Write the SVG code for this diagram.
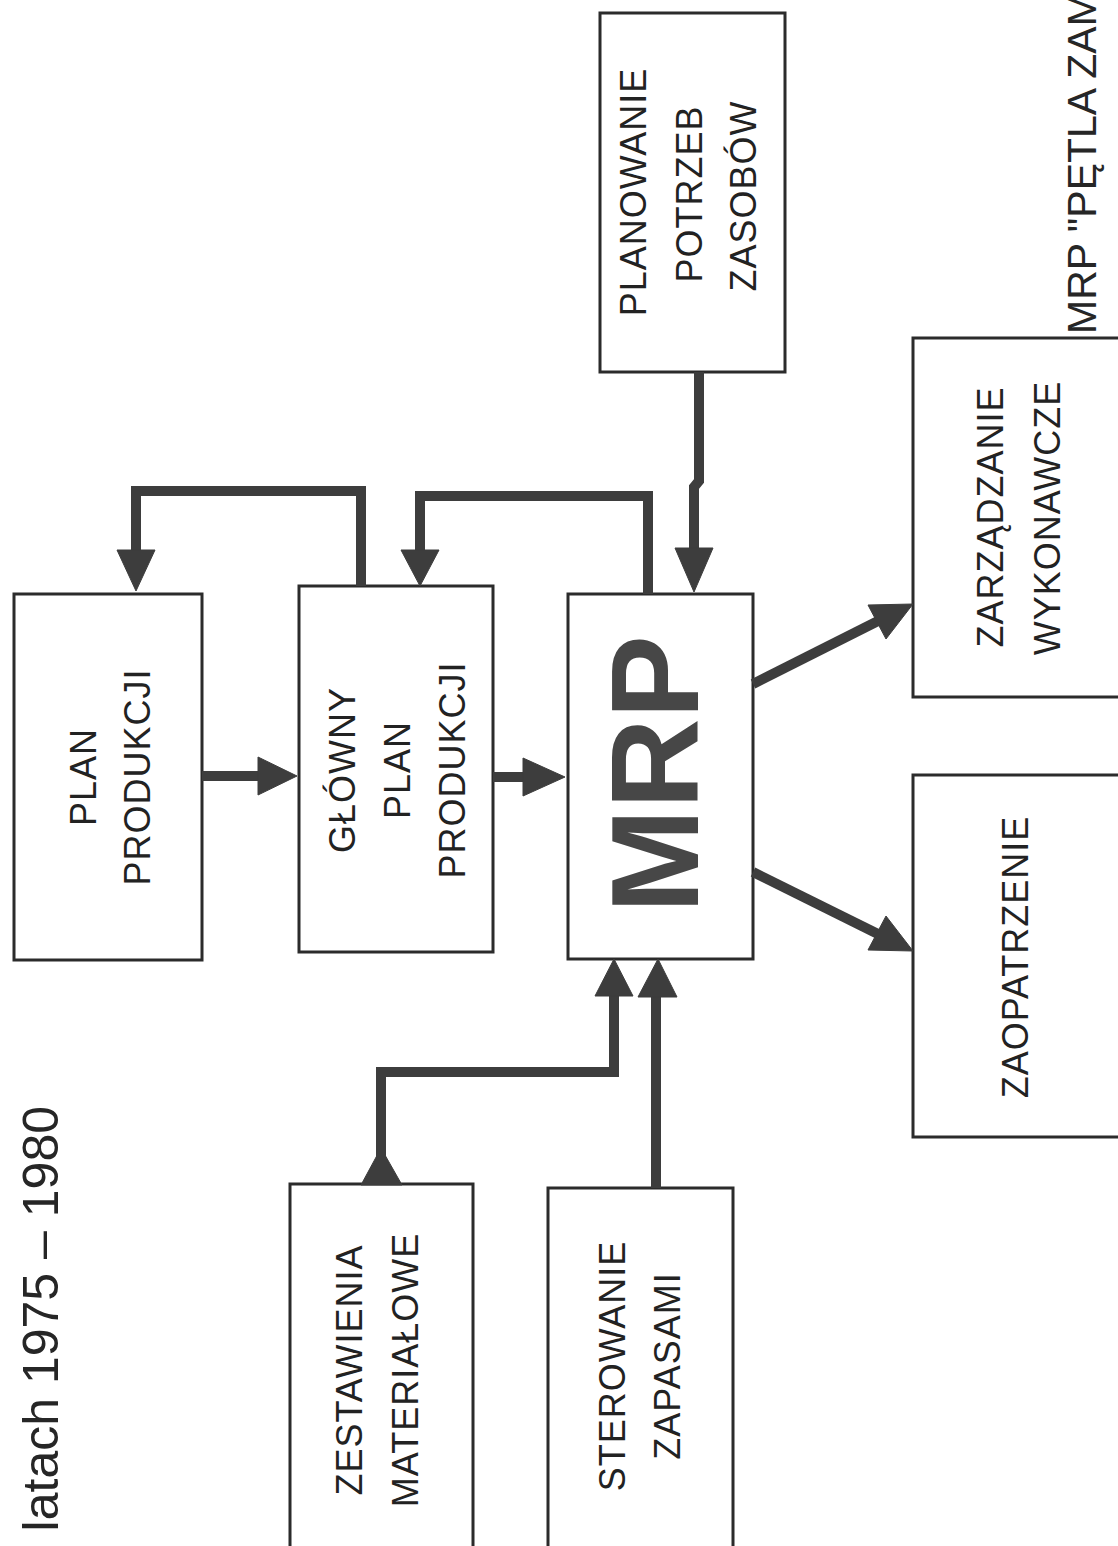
<svg xmlns="http://www.w3.org/2000/svg" width="1118" height="1546" viewBox="0 0 1118 1546">
  <style>
    .box { fill: #ffffff; stroke: #2b2b2b; stroke-width: 3; }
    .lbl { font-family: "Liberation Sans", Arial, sans-serif; font-size: 36px; letter-spacing: 1px; fill: #222222; text-anchor: middle; }
    .title { font-family: "Liberation Sans", Arial, sans-serif; fill: #262626; }
    .big { font-family: "Liberation Sans", Arial, sans-serif; font-size: 125px; font-weight: bold; fill: #474747; text-anchor: middle; }
    .wire { fill: none; stroke: #3d3d3d; stroke-width: 10; stroke-linejoin: miter; }
    .head { fill: #3d3d3d; stroke: #3d3d3d; stroke-width: 1; stroke-linejoin: round; }
  </style>
  <rect width="1118" height="1546" fill="#ffffff"/>

  <!-- page titles, printed sideways -->
  <text class="title" font-size="50" text-anchor="end" transform="translate(58,1106) rotate(-90)">latach 1975 – 1980</text>
  <text class="title" font-size="41" text-anchor="start" transform="translate(1096,334) rotate(-90)">MRP "PĘTLA ZAM</text>

  <g id="plan-produkcji">
    <rect class="box" x="14" y="594" width="188" height="366"/>
    <text class="lbl" transform="translate(96,777) rotate(-90)">PLAN</text>
    <text class="lbl" transform="translate(150,777) rotate(-90)">PRODUKCJI</text>
  </g>

  <g id="glowny-plan-produkcji">
    <rect class="box" x="299" y="586" width="194" height="366"/>
    <text class="lbl" transform="translate(355,770) rotate(-90)">GŁÓWNY</text>
    <text class="lbl" transform="translate(410,770) rotate(-90)">PLAN</text>
    <text class="lbl" transform="translate(465,770) rotate(-90)">PRODUKCJI</text>
  </g>

  <g id="mrp">
    <rect class="box" x="568" y="594" width="185" height="365"/>
    <text class="big" transform="translate(698,774) rotate(-90)">MRP</text>
  </g>

  <g id="planowanie-potrzeb-zasobow">
    <rect class="box" x="600" y="13" width="185" height="359"/>
    <text class="lbl" transform="translate(646,192) rotate(-90)">PLANOWANIE</text>
    <text class="lbl" transform="translate(702,194) rotate(-90)">POTRZEB</text>
    <text class="lbl" transform="translate(756,196) rotate(-90)">ZASOBÓW</text>
  </g>

  <g id="zarzadzanie-wykonawcze">
    <rect class="box" x="913" y="338" width="215" height="359"/>
    <text class="lbl" transform="translate(1003,517) rotate(-90)">ZARZĄDZANIE</text>
    <text class="lbl" transform="translate(1060,518) rotate(-90)">WYKONAWCZE</text>
  </g>

  <g id="zaopatrzenie">
    <rect class="box" x="913" y="775" width="215" height="362"/>
    <text class="lbl" transform="translate(1028,957) rotate(-90)">ZAOPATRZENIE</text>
  </g>

  <g id="zestawienia-materialowe">
    <rect class="box" x="290" y="1184" width="183" height="380"/>
    <text class="lbl" transform="translate(362,1370) rotate(-90)">ZESTAWIENIA</text>
    <text class="lbl" transform="translate(418,1370) rotate(-90)">MATERIAŁOWE</text>
  </g>

  <g id="sterowanie-zapasami">
    <rect class="box" x="548" y="1188" width="185" height="376"/>
    <text class="lbl" transform="translate(625,1366) rotate(-90)">STEROWANIE</text>
    <text class="lbl" transform="translate(680,1366) rotate(-90)">ZAPASAMI</text>
  </g>

  <g id="connectors">
    <!-- plan produkcji -> glowny plan -->
    <path class="wire" d="M202,776 H262" stroke-width="12"/>
    <polygon class="head" points="258,757 297,776 258,795"/>
    <!-- glowny plan -> MRP -->
    <path class="wire" d="M493,777 H528" stroke-width="12"/>
    <polygon class="head" points="523,758 565,777 523,796"/>
    <!-- glowny plan feedback -> plan produkcji -->
    <path class="wire" d="M361,586 V491 H136 V555"/>
    <polygon class="head" points="117,550 155,550 136,591"/>
    <!-- MRP feedback -> glowny plan -->
    <path class="wire" d="M648,594 V496 H420 V555"/>
    <polygon class="head" points="401,550 439,550 420,586"/>
    <!-- planowanie potrzeb zasobow -> MRP -->
    <path class="wire" d="M699,372 V481 L694,487 V555"/>
    <polygon class="head" points="675,548 713,548 694,592"/>
    <!-- MRP -> zarzadzanie wykonawcze -->
    <path class="wire" d="M753,684 L880,620"/>
    <polygon class="head" points="868,605 913,604 886,639"/>
    <!-- MRP -> zaopatrzenie -->
    <path class="wire" d="M753,872 L880,935"/>
    <polygon class="head" points="886,916 913,951 868,950"/>
    <!-- zestawienia materialowe -> MRP (flared foot at the box) -->
    <polygon class="head" points="381,1148 361,1185 402,1185"/>
    <path class="wire" d="M381,1184 V1072 H614 V995"/>
    <polygon class="head" points="595,996 633,996 614,959"/>
    <!-- sterowanie zapasami -> MRP -->
    <path class="wire" d="M656,1188 V995"/>
    <polygon class="head" points="638,997 677,997 658,959"/>
  </g>
</svg>
